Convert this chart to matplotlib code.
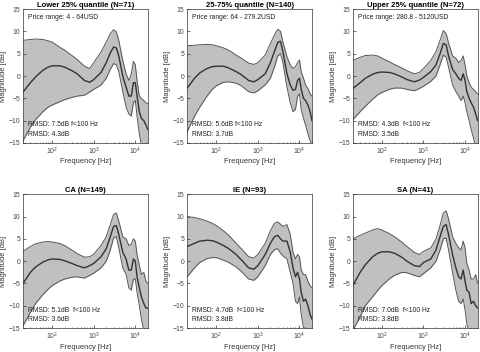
import numpy as np
import matplotlib
matplotlib.use('Agg')
import matplotlib.pyplot as plt

plt.rcParams['font.family'] = ['Liberation Sans', 'DejaVu Sans']

# frequency grid [Hz]
freq = [20, 30, 40, 60, 80, 100, 150, 200, 300, 400, 600, 800, 1000, 1500, 2000, 2500,
        3000, 3500, 4000, 5000, 6000, 7000, 8000, 9000, 10000, 11000, 12500, 14000,
        16000, 18000, 20000]

titles = ['Lower 25% quantile (N=71)', '25-75% quantile (N=140)', 'Upper 25% quantile (N=72)',
          'CA (N=149)', 'IE (N=93)', 'SA (N=41)']
price = ['Price range: 4 - 64USD', 'Price range: 64 - 279.2USD', 'Price range: 280.8 - 5120USD',
         None, None, None]
rmsd_low = ['RMSD: 7.5dB f<100 Hz', 'RMSD: 5.6dB f<100 Hz', 'RMSD: 4.3dB  f<100 Hz',
            'RMSD: 5.1dB  f<100 Hz', 'RMSD: 4.7dB  f<100 Hz', 'RMSD: 7.0dB  f<100 Hz']
rmsd_all = ['RMSD: 4.3dB', 'RMSD: 3.7dB', 'RMSD: 3.5dB', 'RMSD: 3.6dB', 'RMSD: 3.8dB', 'RMSD: 3.8dB']

# upper bound, mean, lower bound per panel [dB]
upper1 = [8.0, 8.2, 8.3, 8.2, 7.9, 7.6, 6.5, 5.8, 4.6, 3.7, 2.2, 1.7, 3.0, 5.4, 7.6, 9.5,
          10.4, 9.9, 8.0, 3.5, 0.5, -1.0, 0.5, 3.3, 2.5, -1.0, -4.5, -5.0, -5.5, -6.0, -6.2]
mean1 = [-3.6, -1.5, -0.2, 1.3, 2.0, 2.3, 2.3, 2.0, 1.2, 0.5, -1.0, -1.4, -0.8, 0.8, 3.0, 5.2,
         6.5, 6.3, 4.5, 0.0, -2.5, -4.5, -4.5, -1.5, -1.5, -4.5, -8.0, -9.5, -10.0, -11.0, -12.0]
lower1 = [-14.5, -11.5, -9.8, -8.0, -7.0, -6.5, -5.8, -5.3, -4.8, -4.5, -4.3, -3.6, -3.0, -2.0,
          -0.5, 1.5, 2.8, 2.5, 1.0, -3.5, -7.0, -8.5, -9.0, -6.0, -5.5, -9.0, -13.0, -15.5,
          -17.0, -17.0, -17.0]

upper2 = [6.8, 6.9, 7.0, 7.1, 7.0, 6.8, 6.3, 5.8, 4.7, 4.0, 2.9, 2.6, 3.0, 4.7, 7.3, 9.2,
          10.5, 10.0, 7.7, 4.3, 2.5, 1.7, 2.1, 3.0, 3.6, 1.0, -0.5, -2.0, -2.8, -4.0, -4.5]
mean2 = [-2.7, -0.5, 0.7, 1.7, 2.1, 2.2, 2.2, 1.8, 1.0, 0.3, -1.0, -1.3, -0.8, 0.5, 3.0, 5.5,
         7.5, 7.8, 5.5, 0.5, -2.0, -3.2, -3.0, -1.0, -0.5, -3.0, -5.0, -5.5, -6.5, -8.0, -10.0]
lower2 = [-12.5, -9.0, -7.0, -4.5, -3.0, -2.2, -1.4, -1.3, -1.6, -2.2, -3.5, -3.8, -3.3, -2.0,
          -0.5, 2.0, 4.5, 5.0, 3.0, -2.5, -6.0, -8.0, -7.5, -4.5, -4.0, -7.5, -9.5, -11.0,
          -13.0, -14.5, -15.5]

upper3 = [3.5, 4.2, 4.6, 4.7, 4.5, 4.0, 3.2, 2.6, 1.8, 1.2, 0.5, 0.8, 1.7, 3.5, 5.5, 8.0,
          10.2, 9.5, 7.5, 4.5, 4.0, 3.0, 3.5, 4.5, 2.5, 0.0, -1.5, -2.5, -3.0, -3.5, -4.0]
mean3 = [-2.8, -1.5, -0.5, 0.4, 0.8, 0.9, 0.8, 0.5, -0.2, -0.8, -1.3, -0.9, -0.3, 1.0, 2.5, 5.0,
         7.3, 7.0, 4.5, 1.5, 0.5, -0.5, -1.0, 0.5, -1.0, -3.5, -5.0, -6.0, -7.0, -8.5, -10.0]
lower3 = [-9.8, -8.0, -6.8, -5.2, -4.2, -3.7, -3.0, -2.7, -2.7, -3.0, -3.3, -2.8, -2.3, -1.2,
          0.0, 2.5, 4.7, 4.2, 2.0, -2.0, -3.5, -4.5, -5.5, -4.5, -6.0, -8.0, -10.0, -12.0,
          -14.0, -16.0, -17.0]

upper4 = [2.2, 3.3, 3.9, 4.3, 4.4, 4.3, 4.0, 3.5, 2.5, 1.7, 0.9, 1.0, 1.6, 3.5, 5.5, 8.2,
          10.5, 10.8, 9.0, 5.5, 5.0, 3.5, 3.8, 5.0, 4.5, 1.5, -1.0, -3.0, -2.5, -4.5, -5.0]
mean4 = [-5.0, -2.5, -1.3, -0.2, 0.3, 0.5, 0.4, 0.1, -0.5, -1.0, -1.5, -1.0, -0.5, 1.0, 2.8, 5.5,
         7.8, 8.0, 6.0, 2.0, 0.5, -2.0, -2.0, 0.5, 0.0, -3.5, -6.0, -8.0, -9.5, -10.5, -10.5]
lower4 = [-14.5, -11.5, -9.5, -7.5, -6.3, -5.5, -4.5, -4.0, -3.6, -3.5, -3.8, -3.2, -2.7, -1.5,
          0.0, 2.5, 5.2, 5.5, 3.0, -1.5, -3.0, -6.0, -6.5, -4.0, -4.0, -7.0, -10.0, -13.0,
          -15.5, -17.0, -18.0]

upper5 = [10.0, 9.8, 9.5, 9.0, 8.5, 8.0, 6.8, 5.8, 4.0, 2.8, 1.0, 0.7, 1.5, 4.0, 6.8, 8.5,
          8.8, 8.3, 7.8, 8.2, 6.0, 2.0, 0.5, 1.5, 1.0, -2.0, -3.0, -3.0, -4.5, -5.5, -6.0]
mean5 = [3.3, 4.0, 4.5, 4.7, 4.6, 4.3, 3.5, 2.8, 1.5, 0.3, -1.5, -1.8, -1.0, 1.5, 4.0, 5.5,
         5.8, 5.0, 4.5, 4.5, 2.0, -1.5, -3.5, -2.5, -4.0, -7.0, -9.0, -8.5, -10.0, -12.0, -13.0]
lower5 = [-3.5, -1.5, -0.3, 0.6, 0.8, 0.8, 0.2, -0.3, -1.3, -2.3, -4.0, -4.3, -3.5, -1.0,
          1.5, 2.6, 2.8, 1.8, 1.2, 0.5, -2.5, -5.0, -9.0, -9.5, -8.0, -12.0, -15.0, -15.0,
          -16.0, -17.0, -18.0]

upper6 = [5.0, 5.8, 6.3, 7.0, 7.3, 7.0, 6.2, 5.5, 4.3, 3.3, 2.0, 1.5, 2.2, 3.0, 5.0, 8.0,
          10.8, 11.3, 9.5, 5.5, 4.0, 3.0, 2.5, 4.5, 3.0, -0.5, -2.0, -4.0, -4.0, -3.0, -5.0]
mean6 = [-5.5, -2.5, -0.8, 1.0, 1.8, 2.1, 2.1, 1.8, 0.9, 0.0, -1.0, -1.2, -0.3, 0.5, 2.5, 5.5,
         7.8, 8.2, 6.0, 1.5, -1.5, -3.5, -4.0, -2.0, -4.5, -6.5, -7.0, -9.5, -9.0, -10.0, -10.5]
lower6 = [-15.5, -12.5, -10.0, -8.0, -6.5, -5.5, -4.0, -3.2, -2.5, -2.6, -3.2, -3.5, -2.8, -1.5,
          0.0, 2.5, 5.0, 5.2, 2.5, -2.5, -6.5, -9.0, -9.5, -8.5, -11.0, -14.0, -16.0, -16.0,
          -17.0, -17.0, -17.0]

uppers = [upper1, upper2, upper3, upper4, upper5, upper6]
means = [mean1, mean2, mean3, mean4, mean5, mean6]
lowers = [lower1, lower2, lower3, lower4, lower5, lower6]

fig = plt.figure(figsize=(4.8, 3.52), dpi=100)
lefts = [0.048, 0.39, 0.735]
bottoms = [0.594, 0.068]
w, h = 0.26, 0.38

for i in range(6):
    ax = fig.add_axes([lefts[i % 3], bottoms[i // 3], w, h])
    ax.fill_between(freq, lowers[i], uppers[i], color='#c0c0c0', lw=0)
    ax.plot(freq, uppers[i], color='#555555', lw=0.7)
    ax.plot(freq, lowers[i], color='#555555', lw=0.7)
    ax.plot(freq, means[i], color='#333333', lw=1.0)
    ax.set_xscale('log')
    ax.set_xlim(20, 20000)
    ax.set_ylim(-15, 15)
    ax.set_yticks([-15, -10, -5, 0, 5, 10, 15])
    ax.set_xticks([100, 1000, 10000])
    ax.tick_params(direction='in', labelsize=4.9, length=2, width=0.5, pad=2,
                   colors='#333333', labelcolor='#444444')
    ax.tick_params(which='minor', direction='in', length=1, width=0.4)
    for s in ax.spines.values():
        s.set_linewidth(0.5)
        s.set_color('#333333')
    ax.set_title(titles[i], fontsize=5.5, fontweight='bold', pad=1.5)
    ax.set_xlabel('Frequency [Hz]', fontsize=5.4, labelpad=1, color='#333333')
    ax.set_ylabel('Magnitude [dB]', fontsize=5.4, labelpad=1, color='#333333')
    if price[i]:
        ax.text(0.04, 0.94, price[i], transform=ax.transAxes, fontsize=4.9, va='center',
                color='#222222')
    ax.text(0.04, 0.135, rmsd_low[i], transform=ax.transAxes, fontsize=4.9, va='center',
            color='#222222')
    ax.text(0.04, 0.065, rmsd_all[i], transform=ax.transAxes, fontsize=4.9, va='center',
            color='#222222')

fig.savefig('out.png', dpi=100)
